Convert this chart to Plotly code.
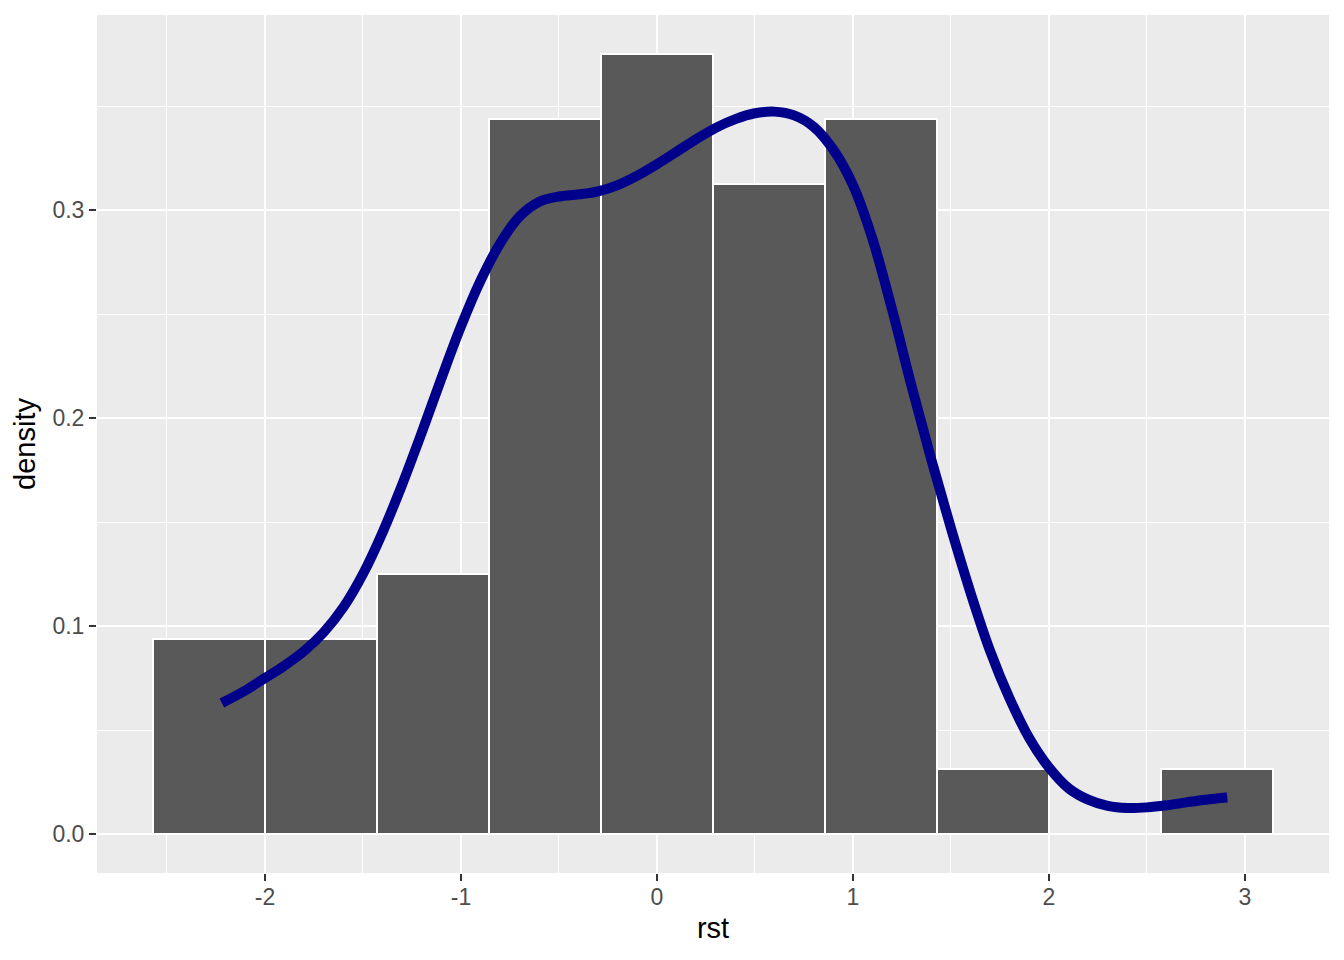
import plotly.graph_objects as go

# Histogram (density scale), bin width 4/7
bin_centers = [-2.2857, -1.7143, -1.1429, -0.5714, 0.0, 0.5714, 1.1429, 1.7143, 2.2857, 2.8571]
densities = [0.09375, 0.09375, 0.125, 0.34375, 0.375, 0.3125, 0.34375, 0.03125, 0.0, 0.03125]
bin_width = 0.5714

# Kernel density curve
dens_x = [-2.22, -2.1, -2.0, -1.9, -1.8, -1.7, -1.6, -1.5, -1.4, -1.3, -1.2, -1.1, -1.0,
          -0.9, -0.8, -0.7, -0.6, -0.5, -0.4, -0.3, -0.2, -0.1, 0.0, 0.1, 0.2, 0.3,
          0.4, 0.5, 0.6, 0.7, 0.8, 0.9, 1.0, 1.1, 1.2, 1.3, 1.4, 1.5, 1.6, 1.7,
          1.8, 1.9, 2.0, 2.1, 2.2, 2.3, 2.4, 2.5, 2.6, 2.7, 2.8, 2.91]
dens_y = [0.063, 0.069, 0.075, 0.081, 0.088, 0.097, 0.109, 0.125, 0.145, 0.168, 0.193, 0.219, 0.244,
          0.266, 0.284, 0.297, 0.304, 0.3065, 0.3075, 0.309, 0.312, 0.3165, 0.322, 0.328, 0.334, 0.3395,
          0.3437, 0.3465, 0.3473, 0.3455, 0.340, 0.329, 0.312, 0.286, 0.252, 0.215, 0.180, 0.147, 0.116, 0.088,
          0.065, 0.046, 0.032, 0.022, 0.0165, 0.0135, 0.0125, 0.0128, 0.0138, 0.0152, 0.0165, 0.0175]

x_ticks = [-2, -1, 0, 1, 2, 3]
y_ticks = [0.0, 0.1, 0.2, 0.3]

fig = go.Figure()
fig.add_trace(go.Bar(
    x=bin_centers, y=densities, width=bin_width,
    marker=dict(color="#595959", line=dict(color="white", width=2)),
    showlegend=False, hoverinfo="skip"))
fig.add_trace(go.Scatter(
    x=dens_x, y=dens_y, mode="lines",
    line=dict(color="#00008B", width=10, shape="spline", smoothing=1.0),
    showlegend=False))

font = "Liberation Sans, Arial, sans-serif"
fig.update_layout(
    width=1344, height=960,
    margin=dict(l=97, r=15, t=15, b=87),
    paper_bgcolor="white", plot_bgcolor="#EBEBEB",
    font=dict(family=font, color="#4D4D4D"),
    bargap=0,
)
fig.update_xaxes(
    range=[-2.857, 3.429], tickvals=x_ticks, ticktext=[str(v) for v in x_ticks],
    showgrid=True, gridcolor="white", gridwidth=2.4, zeroline=False,
    ticks="outside", ticklen=7, tickwidth=2.4, tickcolor="#333333",
    tickfont=dict(size=23, color="#4D4D4D", family=font),
    ticklabelstandoff=-4,
    minor=dict(tickvals=[-2.5, -1.5, -0.5, 0.5, 1.5, 2.5], showgrid=True, gridcolor="white", gridwidth=1.2, ticks=""),
    title=dict(text="rst", font=dict(size=29, color="black", family=font), standoff=9),
    showline=False,
)
fig.update_yaxes(
    range=[-0.01875, 0.39375], tickvals=y_ticks, ticktext=["0.0", "0.1", "0.2", "0.3"],
    showgrid=True, gridcolor="white", gridwidth=2.4, zeroline=False,
    ticks="outside", ticklen=7, tickwidth=2.4, tickcolor="#333333",
    tickfont=dict(size=23, color="#4D4D4D", family=font),
    minor=dict(tickvals=[0.05, 0.15, 0.25, 0.35], showgrid=True, gridcolor="white", gridwidth=1.2, ticks=""),
    title=dict(text="density", font=dict(size=29, color="black", family=font), standoff=8),
    showline=False,
)
fig.write_html("out.html", config={"displayModeBar": False},
               post_script="document.body.style.margin='0px';")
